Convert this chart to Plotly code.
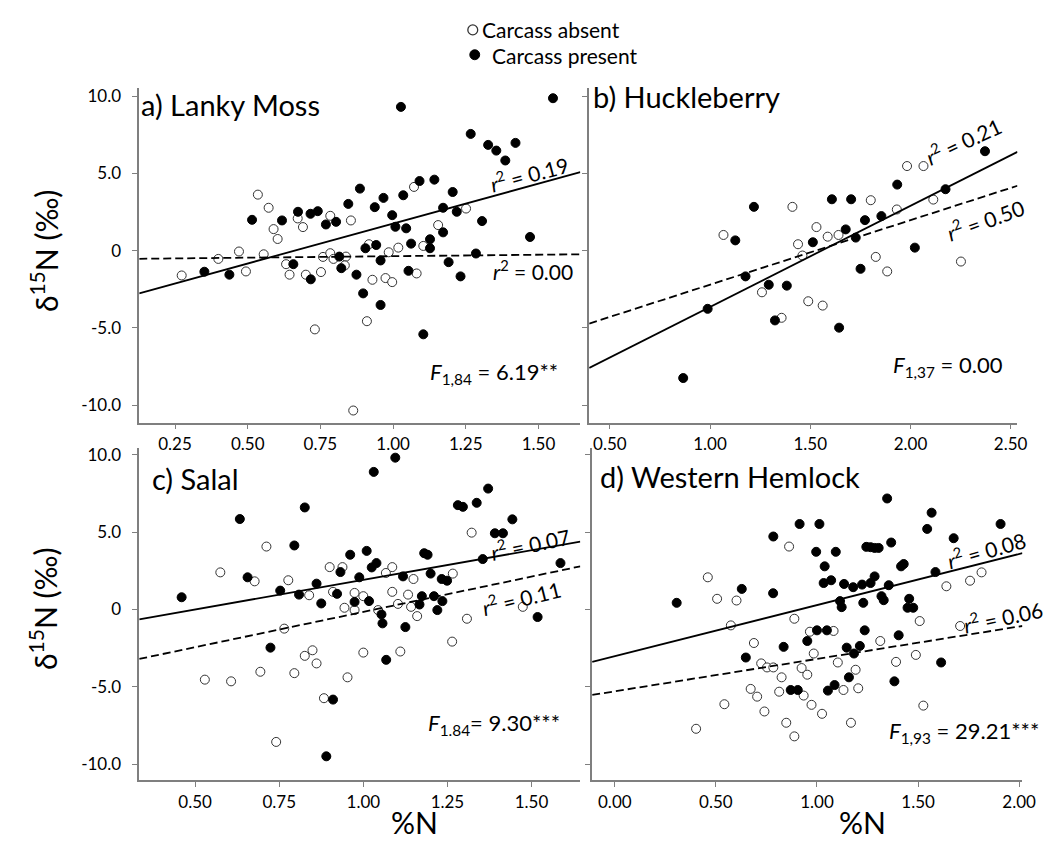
import plotly.graph_objects as go

W, H = 1058, 843

# ---------------- data ----------------
# a) Lanky Moss
a_abs_x = [0.535, 0.572, 0.589, 0.603, 0.672, 0.690, 0.784, 0.855, 0.273, 0.399, 0.470, 0.494,
           0.555, 0.632, 0.644, 0.700, 0.752, 0.759, 0.784, 0.795, 0.838, 0.834, 0.731, 0.863,
           1.072, 1.155, 1.251, 1.104, 0.917, 0.985, 1.018, 0.929, 0.974, 0.997, 1.081, 0.910]
a_abs_y = [3.62, 2.77, 1.39, 0.75, 2.08, 1.52, 2.25, 1.95, -1.61, -0.54, -0.06, -1.35,
           -0.24, -0.88, -1.56, -1.56, -1.39, -0.41, -0.17, -0.54, -0.39, -0.96, -5.10, -10.35,
           4.12, 1.65, 2.72, 0.30, 0.41, -0.11, 0.19, -1.89, -1.78, -2.04, -1.48, -4.57]
a_pres_x = [0.515, 0.618, 0.673, 0.716, 0.741, 0.769, 0.804, 0.846, 0.351, 0.437, 0.657, 0.717,
            0.815, 0.822, 0.874, 1.027, 1.550, 1.267, 1.327, 1.355, 1.386, 1.421, 0.886, 1.091,
            1.142, 0.967, 1.035, 0.937, 0.997, 1.008, 1.045, 1.172, 1.205, 1.219, 1.172, 1.306,
            1.471, 1.127, 1.127, 1.062, 0.905, 0.942, 0.957, 1.285, 1.191, 1.053, 1.232, 0.897,
            0.957, 1.104]
a_pres_y = [1.99, 1.95, 2.51, 2.38, 2.55, 1.69, 1.86, 3.02, -1.37, -1.56, -0.88, -1.86,
            -0.39, -1.14, -1.56, 9.30, 9.86, 7.55, 6.84, 6.47, 5.83, 6.97, 4.01, 4.50,
            4.59, 3.41, 3.58, 2.81, 2.29, 1.54, 1.44, 2.77, 3.79, 2.51, 1.18, 1.91,
            0.88, 0.73, 0.15, 0.45, 0.15, 0.36, -0.64, -0.19, -0.75, -1.31, -1.67, -2.77,
            -3.52, -5.42]

# b) Huckleberry
b_abs_x = [1.411, 1.067, 1.531, 1.439, 1.461, 1.259, 1.490, 1.357, 1.983, 2.065, 1.802, 2.114,
           1.932, 1.587, 1.641, 1.827, 1.884, 2.252, 1.562]
b_abs_y = [2.83, 1.01, 1.52, 0.41, -0.32, -2.70, -3.28, -4.35, 5.47, 5.47, 3.26, 3.30,
           2.66, 0.90, 1.01, -0.41, -1.35, -0.71, -3.56]
b_pres_x = [1.219, 1.126, 1.513, 1.177, 1.293, 1.383, 0.988, 1.324, 0.866, 2.372, 1.934, 1.608,
            1.704, 2.175, 1.773, 1.855, 1.677, 1.727, 2.022, 1.751, 1.644]
b_pres_y = [2.83, 0.66, 0.54, -1.67, -2.21, -2.27, -3.77, -4.52, -8.25, 6.43, 4.27, 3.32,
            3.32, 3.97, 1.97, 2.23, 1.37, 0.84, 0.19, -1.18, -4.99]

# c) Salal
c_abs_x = [0.712, 0.575, 0.677, 0.777, 0.900, 0.938, 0.839, 0.910, 0.974, 0.944, 0.974, 0.765,
           0.849, 0.826, 0.861, 0.529, 0.607, 0.694, 0.795, 0.953, 0.883, 0.741,
           1.322, 1.086, 1.067, 1.149, 1.266, 1.000, 1.086, 1.133, 1.103, 1.142, 1.044, 1.160,
           1.474, 1.308, 1.264, 1.000, 1.110]
c_abs_y = [4.07, 2.40, 1.82, 1.89, 2.74, 2.74, 0.92, 1.14, 1.07, 0.11, -0.04, -1.24,
           -2.64, -3.00, -3.49, -4.54, -4.65, -4.03, -4.12, -4.39, -5.74, -8.57,
           4.97, 2.74, 2.36, 1.97, 2.32, 0.86, 1.14, 0.96, 0.36, 0.17, -0.04, -0.43,
           0.17, -0.60, -2.08, -2.79, -2.72]
c_pres_x = [0.826, 0.633, 0.795, 0.961, 0.656, 0.932, 0.861, 0.460, 0.753, 0.809, 0.875, 0.922,
            0.974, 0.724, 0.910, 0.890,
            1.095, 1.031, 1.371, 1.281, 1.296, 1.337, 1.443, 1.391, 1.415, 1.010, 1.181, 1.191,
            1.355, 1.586, 1.039, 1.025, 0.988, 1.118, 1.200, 1.233, 1.249, 1.174, 1.210, 1.017,
            1.167, 1.235, 1.220, 1.054, 1.518, 1.057, 1.125, 1.068]
c_pres_y = [6.60, 5.85, 4.14, 3.54, 2.08, 2.42, 1.67, 0.79, 1.22, 0.96, 0.39, 1.01,
            0.49, -2.47, -5.83, -9.50,
            9.82, 8.90, 7.82, 6.75, 6.64, 6.90, 5.83, 4.93, 4.93, 3.79, 3.64, 3.54,
            3.26, 3.00, 3.00, 2.72, 2.08, 2.14, 2.32, 1.97, 1.86, 0.86, 0.86, 0.54,
            0.32, 0.54, -0.04, -0.32, -0.49, -0.90, -1.14, -3.26]

# d) Western Hemlock
d_abs_x = [0.862, 0.460, 0.506, 0.602, 0.888, 0.574, 0.965, 0.688, 0.984, 0.724, 0.753, 0.784,
           0.924, 0.952, 0.825, 0.672, 0.704, 0.813, 0.934, 0.973, 0.542, 0.740, 0.848, 0.888,
           0.402, 1.640, 1.757, 1.814, 1.508, 1.708, 1.082, 1.313, 1.103, 1.191, 1.391, 1.489,
           1.131, 1.204, 1.025, 1.168, 1.526]
d_abs_y = [4.07, 2.08, 0.69, 0.58, -0.60, -1.03, -1.44, -2.17, -2.85, -3.49, -3.75, -3.75,
           -3.79, -4.22, -4.39, -5.14, -5.64, -5.32, -5.57, -6.17, -6.13, -6.60, -7.33, -8.21,
           -7.72, 1.50, 1.86, 2.40, -0.75, -1.07, -1.39, -2.04, -3.43, -3.90, -3.39, -2.94,
           -5.21, -5.10, -6.75, -7.33, -6.22]
d_pres_x = [0.914, 0.784, 0.628, 0.783, 0.306, 0.952, 0.835, 0.648, 0.870, 0.905,
            1.347, 1.012, 1.567, 1.908, 1.545, 1.367, 1.676, 0.996, 1.093, 1.244, 1.265, 1.285,
            1.305, 1.038, 1.416, 1.429, 1.586, 1.033, 1.070, 1.134, 1.179, 1.223, 1.265, 1.285,
            1.355, 1.319, 1.330, 1.114, 1.122, 1.229, 1.456, 1.448, 1.476, 1.000, 1.049, 1.236,
            1.404, 1.147, 1.212, 1.183, 1.614, 1.158, 1.383, 1.054, 1.087]
d_pres_y = [5.53, 4.72, 1.33, 1.05, 0.43, -2.04, -2.42, -3.11, -5.21, -5.21,
            7.18, 5.53, 6.26, 5.53, 5.21, 4.33, 4.61, 3.73, 3.73, 4.05, 4.03, 3.98,
            3.98, 2.79, 2.79, 2.94, 2.42, 1.71, 1.89, 1.65, 1.44, 1.61, 1.71, 2.14,
            1.57, 0.86, 0.60, 0.54, 0.15, 0.43, 0.69, 0.11, 0.11, -1.35, -1.35, -1.35,
            -1.67, -2.47, -2.36, -2.85, -3.43, -4.39, -4.65, -5.25, -4.89]

# regression fits (intercept, slope): present = solid, absent = dashed
fit_present = {"a": (-3.422, 5.168), "b": (-10.187, 6.542), "c": (-1.922, 3.837), "d": (-3.020, 3.304)}
fit_absent = {"a": (-0.555, 0.191), "b": (-6.379, 4.173), "c": (-4.726, 4.569), "d": (-5.295, 2.096)}

titles = {"a": "a) Lanky Moss", "b": "b) Huckleberry", "c": "c) Salal", "d": "d) Western Hemlock"}
legend_labels = ["Carcass absent", "Carcass present"]
r2_present = {"a": "0.19", "b": "0.21", "c": "0.07", "d": "0.08"}
r2_absent = {"a": "0.00", "b": "0.50", "c": "0.11", "d": "0.06"}
f_text = {"a": ("1,84", "6.19**"), "b": ("1,37", "0.00"), "c": ("1.84", "9.30***"), "d": ("1,93", "29.21***")}

x_ticks = {"a": [0.25, 0.50, 0.75, 1.00, 1.25, 1.50],
           "b": [0.50, 1.00, 1.50, 2.00, 2.50],
           "c": [0.50, 0.75, 1.00, 1.25, 1.50],
           "d": [0.00, 0.50, 1.00, 1.50, 2.00]}
y_ticks = [-10, -5, 0, 5, 10]
y_ticktext = ["-10.0", "-5.0", "0", "5.0", "10.0"]

x_ranges = {"a": [0.127, 1.644], "b": [0.397, 2.534], "c": [0.334, 1.645], "d": [-0.112, 2.016]}
y_ranges = {"a": [-11.13, 10.55], "b": [-11.13, 10.55], "c": [-11.06, 10.42], "d": [-11.06, 10.42]}

data = {"a": (a_abs_x, a_abs_y, a_pres_x, a_pres_y),
        "b": (b_abs_x, b_abs_y, b_pres_x, b_pres_y),
        "c": (c_abs_x, c_abs_y, c_pres_x, c_pres_y),
        "d": (d_abs_x, d_abs_y, d_pres_x, d_pres_y)}

# ---------------- layout geometry (pixels) ----------------
def px(X):
    return X / W

def py(Y):
    return 1 - Y / H

boxes = {"a": (133, 580, 75, 412), "b": (589, 1023, 75, 412),
         "c": (133, 580, 438, 772), "d": (592, 1028, 438, 772)}
axis_ids = {"a": ("x", "y"), "b": ("x2", "y2"), "c": ("x3", "y3"), "d": ("x4", "y4")}

FONT = "Lato, 'Open Sans', sans-serif"
AXC = "#7f7f7f"

fig = go.Figure()

for k in ["a", "b", "c", "d"]:
    xa, ya = axis_ids[k]
    ax_x, ay_x, px_x, py_y = data[k]
    fig.add_trace(go.Scatter(
        x=ax_x, y=ay_x, mode="markers", xaxis=xa, yaxis=ya,
        name=legend_labels[0], showlegend=False,
        marker=dict(symbol="circle", size=9, color="white", line=dict(color="#333333", width=1))))
    fig.add_trace(go.Scatter(
        x=px_x, y=py_y, mode="markers", xaxis=xa, yaxis=ya,
        name=legend_labels[1], showlegend=False,
        marker=dict(symbol="circle", size=9, color="black", line=dict(color="black", width=1))))
    x0, x1 = x_ranges[k]
    b0, m = fit_present[k]
    fig.add_trace(go.Scatter(x=[x0, x1], y=[b0 + m * x0, b0 + m * x1], mode="lines",
                             xaxis=xa, yaxis=ya, showlegend=False, hoverinfo="skip",
                             line=dict(color="black", width=1.8)))
    b0, m = fit_absent[k]
    fig.add_trace(go.Scatter(x=[x0, x1], y=[b0 + m * x0, b0 + m * x1], mode="lines",
                             xaxis=xa, yaxis=ya, showlegend=False, hoverinfo="skip",
                             line=dict(color="black", width=1.8, dash="8px,4px")))

layout = dict(width=W, height=H, margin=dict(l=0, r=0, t=0, b=0),
              paper_bgcolor="white", plot_bgcolor="white", showlegend=False,
              font=dict(family=FONT, color="black"))

for k in ["a", "b", "c", "d"]:
    xa, ya = axis_ids[k]
    L, R, T, B = boxes[k]
    xname = "xaxis" + xa[1:]
    yname = "yaxis" + ya[1:]
    layout[xname] = dict(domain=[px(L), px(R)], range=x_ranges[k], anchor=ya,
                         showline=True, linecolor=AXC, linewidth=1.5, ticks="outside",
                         ticklen=5, tickcolor=AXC, showgrid=False, zeroline=False,
                         tickvals=x_ticks[k], tickformat=".2f",
                         tickfont=dict(family=FONT, size=17, color="black"))
    layout[yname] = dict(domain=[py(B), py(T)], range=y_ranges[k], anchor=xa,
                         showline=True, linecolor=AXC, linewidth=1.5, ticks="outside",
                         ticklen=5, tickcolor=AXC, showgrid=False, zeroline=False,
                         tickvals=y_ticks, ticktext=y_ticktext,
                         showticklabels=(k in ["a", "c"]), ticklabelstandoff=8,
                         tickfont=dict(family=FONT, size=17, color="black"))

fig.update_layout(**layout)

ann = []
def add(text, X, Y, size, angle=0, xanchor="center", yanchor="middle"):
    ann.append(dict(text=text, x=px(X), y=py(Y), xref="paper", yref="paper",
                    showarrow=False, textangle=angle, xanchor=xanchor, yanchor=yanchor,
                    font=dict(family=FONT, size=size, color="black")))

# key (legend) at top centre
add(legend_labels[0], 478, 17, 21, xanchor="left")
add(legend_labels[1], 488, 43, 21, xanchor="left")
shapes = [
    dict(type="circle", xref="paper", yref="paper",
         x0=px(466), x1=px(476), y0=py(22), y1=py(12),
         fillcolor="white", line=dict(color="#333333", width=1.3)),
    dict(type="circle", xref="paper", yref="paper",
         x0=px(468), x1=px(478), y0=py(47), y1=py(37),
         fillcolor="black", line=dict(color="black", width=1)),
]

# panel titles
add(titles["a"], 133, 92, 29, xanchor="left")
add(titles["b"], 591, 84, 29, xanchor="left")
add(titles["c"], 144, 468, 29, xanchor="left")
add(titles["d"], 598, 466, 29, xanchor="left")

# r^2 labels
r2 = lambda v: "<i>r</i><sup>2</sup> = " + v
add(r2(r2_present["a"]), 528, 161, 21, -15)
add(r2(r2_absent["a"]), 532, 259, 21, 0)
add(r2(r2_present["b"]), 968, 128, 21, -25)
add(r2(r2_absent["b"]), 990, 207, 21, -20)
add(r2(r2_present["c"]), 529, 533, 21, -12)
add(r2(r2_absent["c"]), 520, 587, 21, -14)
add(r2(r2_present["d"]), 991, 539, 21, -16)
add(r2(r2_absent["d"]), 1008, 607, 21, -12)

# F statistics
def ftxt(k):
    sub, val = f_text[k]
    sep = "= " if k == "c" else " = "
    return "<i>F</i><sub>" + sub + "</sub>" + sep + val
add(ftxt("a"), 493, 362, 22)
add(ftxt("b"), 953, 355, 22)
add(ftxt("c"), 493, 715, 22)
add(ftxt("d"), 969, 723, 22)

# axis titles
ylab = "δ<sup>15</sup>N (‰)"
add(ylab, 36, 240, 30, -90)
add(ylab, 36, 600, 30, -90)
add("%N", 412, 814, 30)
add("%N", 866, 814, 30)

fig.update_layout(annotations=ann, shapes=shapes)
fig.write_html("out.html")
